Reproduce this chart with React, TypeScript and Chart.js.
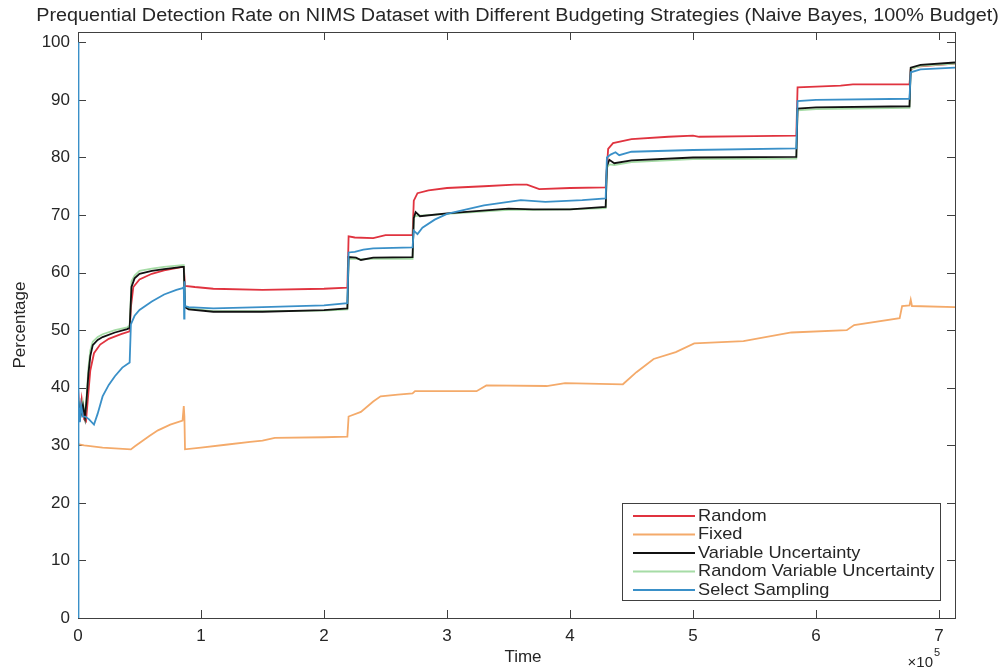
import React, { useEffect, useRef } from "react";
import { Chart, registerables } from "chart.js";

Chart.register(...registerables);

const TITLE = "Prequential Detection Rate on NIMS Dataset with Different Budgeting Strategies (Naive Bayes, 100% Budget)";
const X_TITLE = "Time";
const Y_TITLE = "Percentage";
const X_EXPONENT = "5";

const X_TICKS = [0, 100000, 200000, 300000, 400000, 500000, 600000, 700000];
const X_TICK_LABELS = ["0", "1", "2", "3", "4", "5", "6", "7"];
const Y_TICKS = [0, 10, 20, 30, 40, 50, 60, 70, 80, 90, 100];

const SERIES_LABELS = ["Random", "Fixed", "Variable Uncertainty", "Random Variable Uncertainty", "Select Sampling"];
const SERIES_COLORS = ["#e0333f", "#f4aa6a", "#111111", "#a6dca6", "#3a90c8"];

const RANDOM_X = [0, 1500, 3000, 5000, 6500, 8000, 10000, 13000, 18000, 25000, 35000, 42000, 43000, 45000, 50000, 60000, 70000, 85000, 86000, 87000, 95000, 110000, 150000, 200000, 219000, 220000, 225000, 240000, 250000, 272000, 273000, 276000, 285000, 300000, 330000, 355000, 365000, 375000, 400000, 429000, 431000, 435000, 450000, 480000, 500000, 505000, 550000, 584000, 585000, 600000, 620000, 630000, 676000, 677000, 682000, 700000, 713000];
const RANDOM_Y = [40, 35, 38, 34.5, 34.2, 38, 43, 46, 47.5, 48.5, 49.3, 49.8, 54, 57.5, 58.8, 59.8, 60.4, 61.0, 61.0, 57.7, 57.5, 57.2, 57.0, 57.2, 57.4, 66.3, 66.1, 66.0, 66.5, 66.5, 72.5, 73.8, 74.3, 74.7, 75.0, 75.3, 75.3, 74.5, 74.7, 74.8, 81.5, 82.5, 83.2, 83.6, 83.8, 83.6, 83.7, 83.8, 92.2, 92.3, 92.5, 92.7, 92.7, 95.3, 95.8, 96.1, 96.3];

const FIXED_X = [0, 5000, 20000, 43000, 46000, 52000, 58000, 65000, 75000, 85000, 86000, 86500, 87000, 100000, 120000, 140000, 150000, 160000, 200000, 219000, 220000, 230000, 240000, 246000, 260000, 272000, 274000, 324000, 332000, 381000, 396000, 443000, 454000, 468000, 486000, 501000, 541000, 580000, 625000, 631000, 668000, 670000, 676000, 677000, 678000, 713000];
const FIXED_Y = [30.2, 30, 29.6, 29.3, 29.8, 30.7, 31.6, 32.6, 33.6, 34.3, 36.8, 35, 29.3, 29.6, 30.1, 30.6, 30.8, 31.3, 31.4, 31.5, 35, 35.8, 37.6, 38.5, 38.8, 39.0, 39.4, 39.4, 40.4, 40.3, 40.8, 40.6, 42.7, 45.0, 46.2, 47.7, 48.1, 49.6, 50.0, 50.9, 52.1, 54.2, 54.3, 55.3, 54.2, 54.0];

const VARIABLE_X = [0, 2000, 4000, 5700, 7000, 8500, 10000, 12000, 16000, 20000, 30000, 40000, 42000, 43500, 46000, 50000, 60000, 70000, 85000, 86000, 87000, 90000, 110000, 150000, 200000, 219000, 220000, 226000, 230000, 240000, 272000, 273000, 274500, 278000, 300000, 350000, 370000, 400000, 429000, 430000, 432000, 436000, 450000, 500000, 584000, 585000, 600000, 676000, 677000, 685000, 713000];
const VARIABLE_Y = [38, 35, 37, 34.8, 38, 42.5, 45.5, 47.4, 48.3, 48.8, 49.6, 50.2, 50.4, 57.5, 59.0, 59.8, 60.3, 60.6, 61.0, 61.0, 54.0, 53.6, 53.2, 53.2, 53.5, 53.8, 62.7, 62.6, 62.2, 62.6, 62.7, 69.5, 70.5, 69.8, 70.3, 71.1, 71.0, 71.0, 71.4, 78.5, 79.6, 79.0, 79.5, 80.0, 80.1, 88.5, 88.7, 88.9, 95.6, 96.1, 96.5];

const RAND_VAR_X = [0, 2000, 4000, 5700, 7000, 8500, 10000, 12000, 16000, 20000, 30000, 40000, 42000, 43500, 46000, 50000, 60000, 70000, 85000, 86000, 87000, 90000, 110000, 150000, 200000, 219000, 220000, 226000, 230000, 240000, 272000, 273000, 274500, 278000, 300000, 350000, 370000, 400000, 429000, 430000, 432000, 436000, 450000, 500000, 584000, 585000, 600000, 676000, 677000, 685000, 713000];
const RAND_VAR_Y = [38.5, 35.5, 37.5, 35, 38.5, 43.5, 46.5, 48, 48.8, 49.3, 50, 50.5, 50.8, 58.5, 59.5, 60.3, 60.7, 61, 61.3, 61.3, 54.2, 53.8, 53.3, 53.3, 53.4, 53.6, 62.4, 62.4, 62.3, 62.4, 62.4, 69.6, 69.8, 69.9, 70.2, 70.9, 70.9, 71.0, 71.2, 78.2, 78.8, 78.7, 79.2, 79.7, 79.8, 88.2, 88.4, 88.6, 95.4, 95.9, 96.3];

const SELECT_X = [0, 100, 300, 800, 1500, 2500, 4000, 6000, 9000, 13000, 16000, 20000, 25000, 30000, 36000, 42000, 43000, 46000, 50000, 60000, 70000, 80000, 85000, 86000, 86300, 86600, 87000, 90000, 110000, 150000, 200000, 219000, 220000, 225000, 232000, 240000, 272000, 273000, 276000, 280000, 290000, 300000, 330000, 360000, 380000, 410000, 429000, 430000, 433000, 437000, 440000, 450000, 500000, 584000, 585000, 600000, 676000, 677000, 685000, 713000];
const SELECT_Y = [0, 100, 18, 38, 34, 37, 35, 35, 34.5, 33.6, 35.5, 38.5, 40.5, 42, 43.5, 44.4, 51, 52.5, 53.5, 55, 56.2, 57, 57.3, 57.5, 52, 58.5, 54.2, 54.0, 53.8, 54.0, 54.3, 54.7, 63.5, 63.6, 64.0, 64.2, 64.4, 67.3, 66.7, 67.8, 69.2, 70.2, 71.7, 72.6, 72.3, 72.6, 72.9, 80.0, 80.5, 80.9, 80.4, 81.0, 81.3, 81.6, 89.8, 90.0, 90.2, 94.8, 95.3, 95.6];

const SERIES_X = [RANDOM_X, FIXED_X, VARIABLE_X, RAND_VAR_X, SELECT_X];
const SERIES_Y = [RANDOM_Y, FIXED_Y, VARIABLE_Y, RAND_VAR_Y, SELECT_Y];
const DRAW_ORDER = [5, 4, 2, 3, 1];

const FONT = "'Liberation Sans', Arial, Helvetica, sans-serif";
const TEXT_COLOR = "#262626";
const AXIS_COLOR = "#404040";

function stretchedText(ctx: any, text: string, x: number, y: number, sx: number) {
  ctx.save();
  ctx.translate(x, y);
  ctx.scale(sx, 1);
  ctx.fillText(text, 0, 0);
  ctx.restore();
}

const decorPlugin = {
  id: "matlabDecor",
  beforeDatasetsDraw(chart: any) {
    const { ctx, chartArea: a, scales } = chart;
    const xs = scales.x;
    const ys = scales.y;
    ctx.save();
    ctx.strokeStyle = AXIS_COLOR;
    ctx.lineWidth = 1;
    ctx.strokeRect(a.left + 0.5, a.top + 0.5, a.right - a.left, a.bottom - a.top);
    const tl = 8;
    ctx.beginPath();
    X_TICKS.forEach((v) => {
      const px = Math.round(xs.getPixelForValue(v)) + 0.5;
      ctx.moveTo(px, a.bottom);
      ctx.lineTo(px, a.bottom - tl);
      ctx.moveTo(px, a.top);
      ctx.lineTo(px, a.top + tl);
    });
    Y_TICKS.forEach((v) => {
      const py = Math.round(ys.getPixelForValue(v)) + 0.5;
      ctx.moveTo(a.left, py);
      ctx.lineTo(a.left + tl, py);
      ctx.moveTo(a.right, py);
      ctx.lineTo(a.right - tl, py);
    });
    ctx.stroke();
    ctx.restore();
  },
  afterDraw(chart: any) {
    const { ctx, chartArea: a } = chart;
    ctx.save();
    ctx.fillStyle = TEXT_COLOR;
    ctx.textAlign = "center";
    ctx.textBaseline = "middle";
    ctx.font = `18px ${FONT}`;
    stretchedText(ctx, TITLE, (a.left + a.right) / 2 + 1, 16, 1.1);

    ctx.font = `17px ${FONT}`;
    ctx.fillText(X_TITLE, 523, 657);
    ctx.save();
    ctx.translate(20, (a.top + a.bottom) / 2);
    ctx.rotate(-Math.PI / 2);
    ctx.fillText(Y_TITLE, 0, 0);
    ctx.restore();

    ctx.font = `15px ${FONT}`;
    ctx.textAlign = "right";
    ctx.textBaseline = "alphabetic";
    ctx.fillText("\u00d710", 933, 667);
    ctx.font = `11px ${FONT}`;
    ctx.textAlign = "left";
    ctx.fillText(X_EXPONENT, 934, 656);

    const lx = 622, ly = 503, lw = 318, lh = 97;
    ctx.fillStyle = "#ffffff";
    ctx.fillRect(lx, ly, lw, lh);
    ctx.strokeStyle = AXIS_COLOR;
    ctx.lineWidth = 1;
    ctx.strokeRect(lx + 0.5, ly + 0.5, lw, lh);
    ctx.font = `17px ${FONT}`;
    ctx.textBaseline = "middle";
    ctx.textAlign = "left";
    chart.data.datasets.forEach((ds: any, i: number) => {
      const cy = 516 + i * 18.5;
      ctx.strokeStyle = ds.borderColor;
      ctx.lineWidth = 1.8;
      ctx.beginPath();
      ctx.moveTo(633, cy);
      ctx.lineTo(695, cy);
      ctx.stroke();
      ctx.fillStyle = TEXT_COLOR;
      stretchedText(ctx, ds.label, 698, cy, 1.07);
    });
    ctx.restore();
  },
};

export default function App() {
  const ref = useRef<HTMLCanvasElement | null>(null);
  useEffect(() => {
    document.body.style.margin = "0";
    const canvas = ref.current;
    if (!canvas) return;
    const datasets = SERIES_LABELS.map((label, i) => ({
      label,
      data: SERIES_X[i].map((x, j) => ({ x, y: SERIES_Y[i][j] })),
      borderColor: SERIES_COLORS[i],
      backgroundColor: SERIES_COLORS[i],
      borderWidth: 1.8,
      pointRadius: 0,
      tension: 0,
      fill: false,
      order: DRAW_ORDER[i],
    }));
    const chart = new Chart(canvas, {
      type: "line",
      data: { datasets },
      options: {
        responsive: false,
        animation: false,
        layout: { padding: { left: 0, right: 51, top: 32, bottom: 0 } },
        plugins: {
          legend: { display: false },
          title: { display: false },
          tooltip: { enabled: false },
        },
        scales: {
          x: {
            type: "linear",
            min: 0,
            max: 713000,
            grid: { display: false, drawTicks: false },
            border: { display: false },
            afterBuildTicks: (s: any) => {
              s.ticks = X_TICKS.map((v) => ({ value: v }));
            },
            afterFit: (s: any) => {
              s.height = 52;
            },
            ticks: {
              autoSkip: false,
              maxRotation: 0,
              padding: 8,
              color: TEXT_COLOR,
              font: { family: FONT, size: 17 },
              callback: (v: any) => X_TICK_LABELS[X_TICKS.indexOf(Number(v))],
            },
          },
          y: {
            type: "linear",
            min: 0,
            max: 101.8,
            grid: { display: false, drawTicks: false },
            border: { display: false },
            afterBuildTicks: (s: any) => {
              s.ticks = Y_TICKS.map((v) => ({ value: v }));
            },
            afterFit: (s: any) => {
              s.width = 78;
            },
            ticks: {
              autoSkip: false,
              padding: 8,
              color: TEXT_COLOR,
              font: { family: FONT, size: 17 },
            },
          },
        },
      },
      plugins: [decorPlugin],
    });
    return () => chart.destroy();
  }, []);
  return (
    <div style={{ width: 1006, height: 670, background: "#fff" }}>
      <canvas ref={ref} width={1006} height={670} style={{ display: "block" }} />
    </div>
  );
}
